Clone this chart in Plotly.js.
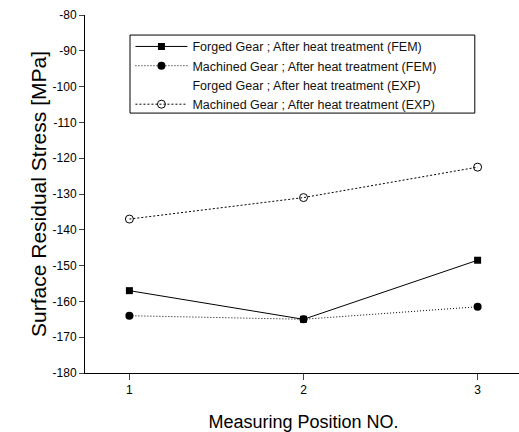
<!DOCTYPE html>
<html><head><meta charset="utf-8">
<script src="https://cdn.plot.ly/plotly-3.0.1.min.js"></script>
<style>html,body{margin:0;padding:0;overflow:hidden;background:#fff}</style>
</head><body><div id="chart"></div>
<script>
const positions = [1, 2, 3];
const forgedFEM = [-157, -165, -148.5];
const machinedFEM = [-164, -165, -161.5];
const forgedEXP = [null, null, null];
const machinedEXP = [-137, -131, -122.5];
const xTicks = [1, 2, 3];
const yTicks = [-80, -90, -100, -110, -120, -130, -140, -150, -160, -170, -180];

const font = 'Arial, "Liberation Sans", sans-serif';
const traces = [
  {x: positions, y: forgedFEM, name: 'Forged Gear ; After heat treatment (FEM)', mode: 'lines+markers',
   line: {color: '#000', width: 1}, marker: {symbol: 'square', size: 7, color: '#000'}},
  {x: positions, y: machinedFEM, name: 'Machined Gear ; After heat treatment (FEM)', mode: 'lines+markers',
   line: {color: '#000', width: 1, dash: '1px,2px'}, marker: {symbol: 'circle', size: 8, color: '#000'}},
  {x: positions, y: forgedEXP, name: 'Forged Gear ; After heat treatment (EXP)', mode: 'markers',
   marker: {size: 7, color: 'rgba(0,0,0,0)'}, showlegend: true},
  {x: positions, y: machinedEXP, name: 'Machined Gear ; After heat treatment (EXP)', mode: 'lines+markers',
   line: {color: '#000', width: 1, dash: '2px,2px'}, marker: {symbol: 'circle-open', size: 8, color: '#000', line: {width: 1}}}
];

const layout = {
  width: 522, height: 432,
  margin: {l: 85, r: 0, t: 15, b: 59},
  paper_bgcolor: '#fff', plot_bgcolor: '#fff',
  font: {family: font, color: '#000', size: 12},
  showlegend: true,
  legend: {x: 0.104, y: 0.953, xanchor: 'left', yanchor: 'top', borderwidth: 0,
           bgcolor: 'rgba(0,0,0,0)', font: {size: 12.5, family: font, color: '#111'}, itemwidth: 52, tracegroupgap: 0,
           traceorder: 'normal'},
  shapes: [{type: 'rect', xref: 'paper', yref: 'paper', x0: 0.103, x1: 0.892, y0: 0.726, y1: 0.944,
            line: {color: '#000', width: 1}, fillcolor: 'rgba(0,0,0,0)', layer: 'above'}],
  xaxis: {range: [0.745, 3.255], tickvals: xTicks, ticktext: xTicks.map(String), ticks: 'outside', ticklen: 6,
          showline: true, linecolor: '#000', linewidth: 1, showgrid: false, zeroline: false,
          tickfont: {size: 12}, title: {text: 'Measuring Position NO.', font: {size: 18}, standoff: 19}},
  yaxis: {range: [-180, -80], tickvals: yTicks, ticktext: yTicks.map(String), ticks: 'outside', ticklen: 5,
          showline: true, linecolor: '#000', linewidth: 1, showgrid: false, zeroline: false,
          tickfont: {size: 12}, title: {text: 'Surface Residual Stress [MPa]', font: {size: 21}, standoff: 0}},
  xaxis2: {overlaying: 'x', matches: 'x', side: 'top', anchor: 'y', range: [0.745, 3.255], tickvals: xTicks,
           ticks: 'inside', ticklen: 5, showticklabels: false, showline: true, linecolor: '#000', showgrid: false, zeroline: false},
  yaxis2: {overlaying: 'y', side: 'right', anchor: 'x', range: [-180, -80], tickvals: yTicks,
           ticks: 'inside', ticklen: 5, showticklabels: false, showline: true, linecolor: '#000', showgrid: false, zeroline: false}
};
Plotly.newPlot('chart', traces, layout, {displayModeBar: false, staticPlot: true});
</script></body></html>
